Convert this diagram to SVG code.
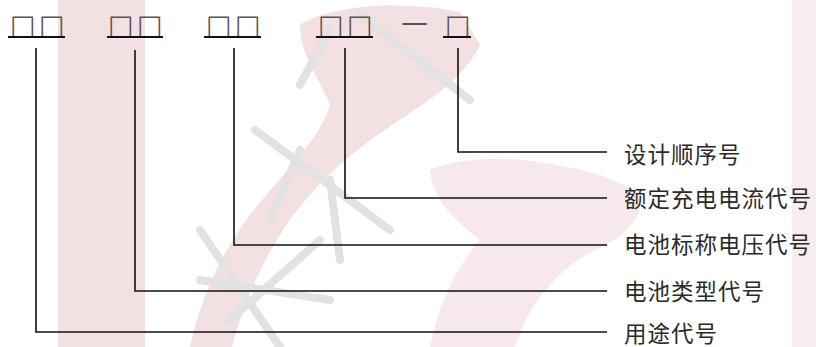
<svg xmlns="http://www.w3.org/2000/svg" width="816" height="347" viewBox="0 0 816 347">
<style>
.wm{fill:#f3e0e2}
.wg{fill:none;stroke:#e2e2e2;stroke-width:8;stroke-linecap:round}
.sq{font-family:"DejaVu Sans",sans-serif;font-size:27px;fill:#555}
.ul{stroke:#111;stroke-width:2}
.ln{fill:none;stroke:#111;stroke-width:1.6}
.lb{font-family:"Noto Sans CJK SC","Noto Sans CJK JP",sans-serif;font-size:22.5px;letter-spacing:1px;fill:#2a2a2a;dominant-baseline:central}
</style>
<rect width="816" height="347" fill="#fff"/>
<g id="watermark">
<rect class="wm" x="58" y="0" width="87" height="347"/>
<path class="wm" d="M300 25 C330 5 400 0 460 12 L480 45 C460 85 420 105 385 130 C340 160 305 195 280 235 C255 275 240 315 232 347 L190 347 C200 300 220 255 250 215 C285 170 320 140 330 105 C318 75 300 55 300 25 Z"/>
<path class="wm" d="M430 170 C480 150 545 160 600 175 L635 190 C650 210 630 235 595 250 C560 268 530 300 515 347 L430 347 C438 305 455 270 480 240 C455 220 432 200 430 170 Z" opacity="0.7"/>
<rect class="wm" x="792" y="0" width="24" height="347" opacity="0.6"/>
<path class="wg" d="M330 30 L300 85 M360 15 L470 100 M300 150 L270 220 M255 130 L390 230 M330 180 L340 260 M200 230 L280 347 M230 320 L320 240 M200 280 L330 300"/>
</g>
<g id="code">
<g id="g1"><text class="sq" x="10 39" y="34">□□</text><line class="ul" x1="8" y1="37" x2="65" y2="37"/></g>
<g id="g2"><text class="sq" x="108 137" y="34">□□</text><line class="ul" x1="107" y1="37" x2="163" y2="37"/></g>
<g id="g3"><text class="sq" x="206 235" y="34">□□</text><line class="ul" x1="204" y1="37" x2="261" y2="37"/></g>
<g id="g4"><text class="sq" x="318 347" y="34">□□</text><line class="ul" x1="316" y1="37" x2="373" y2="37"/></g>
<text class="sq" x="401" y="31" style="font-size:27px">—</text>
<g id="g5"><text class="sq" x="445" y="34">□</text><line class="ul" x1="443" y1="37" x2="471" y2="37"/></g>
</g>
<g id="connectors">
<path class="ln" d="M458 48 V152 H607"/>
<path class="ln" d="M345 48 V198 H607"/>
<path class="ln" d="M234 48 V245 H607"/>
<path class="ln" d="M135 50 V291 H607"/>
<path class="ln" d="M36 48 V332 H607"/>
</g>
<g id="labels">
<text class="lb" id="n5" x="624" y="153">设计顺序号</text>
<text class="lb" id="n4" x="624" y="197">额定充电电流代号</text>
<text class="lb" id="n3" x="624" y="243">电池标称电压代号</text>
<text class="lb" id="n2" x="624" y="290">电池类型代号</text>
<text class="lb" id="n1" x="624" y="332">用途代号</text>
</g>
</svg>
